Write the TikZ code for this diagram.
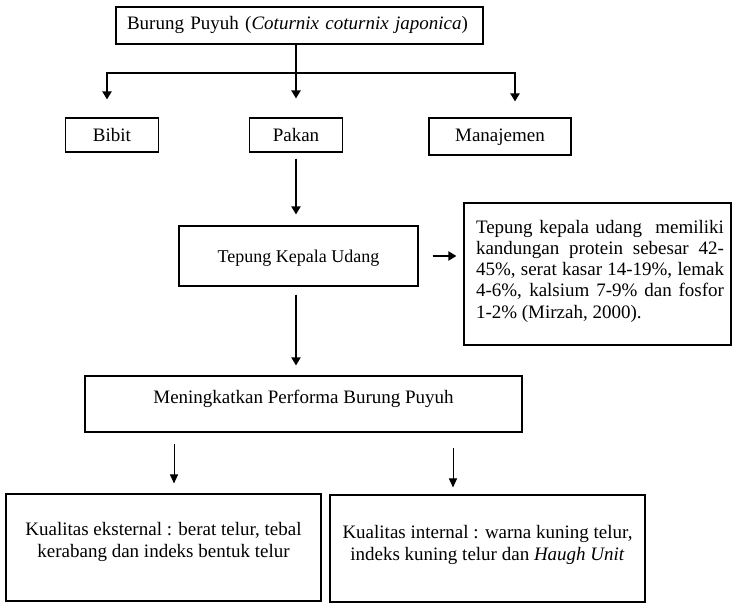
\documentclass[tikz,border=0pt]{standalone}
\usepackage{fontspec}
\setmainfont{Liberation Serif}
\usetikzlibrary{arrows.meta}
\newcommand\bxtext[4]{\parbox[c][#2][t]{#1}{\vspace*{#3}#4}}
\begin{document}
\begin{tikzpicture}[x=1pt,y=-1pt,
  box/.style={draw, line width=1.1pt, inner sep=0pt, font=\fontsize{19}{22}\selectfont, text height=13pt, text depth=0pt},
  pbox/.style={draw, line width=1.1pt, inner sep=0pt, font=\fontsize{19}{22}\selectfont},
  barline/.style={line width=2.2pt},
  bigarrow/.style={line width=2.2pt, line join=miter, -{Triangle[length=8pt,width=9pt]}},
  midarrow/.style={line width=1.8pt, -{Triangle[length=8pt,width=9pt]}},
  smallarrow/.style={line width=1pt, -{Triangle[length=9pt,width=8pt]}}]
\useasboundingbox (0,0) rectangle (734,605);
% boxes
\node[box, minimum width=367pt, minimum height=37pt, text width=345pt, inner xsep=11pt, align=left, text depth=6pt] (top) at (299.5,25.5) {Burung Puyuh (\textit{Coturnix coturnix japonica})};
\node[box, minimum width=93pt, minimum height=34pt] (bib) at (112,135) {Bibit};
\node[box, minimum width=93pt, minimum height=34pt] (pak) at (296,135) {Pakan};
\node[box, minimum width=142pt, minimum height=37pt, text depth=2.6pt] (man) at (500,136.5) {Manajemen};
\node[box, minimum width=239pt, minimum height=60pt, font=\fontsize{18}{21}\selectfont, text height=12.5pt] (tep) at (298.5,256) {Tepung Kepala Udang};
\node[pbox] (info) at (597.5,274) {\bxtext{267pt}{142pt}{17pt}{\fontsize{19}{21.25}\selectfont\setlength\leftskip{12pt}\noindent
\makebox[248pt][s]{Tepung kepala udang\ \ memiliki}\\
\makebox[248pt][s]{kandungan protein sebesar 42-}\\
\makebox[248pt][s]{45\%, serat kasar 14-19\%, lemak}\\
\makebox[248pt][s]{4-6\%, kalsium 7-9\% dan fosfor}\\
1-2\% (Mirzah, 2000).\par}};
\node[box, minimum width=437pt, minimum height=56pt, text depth=15pt] (men) at (303.5,404) {Meningkatkan Performa Burung Puyuh};
\node[pbox] (ext) at (163.5,547.5) {\bxtext{315pt}{107pt}{28pt}{\centering Kualitas eksternal : berat telur, tebal\\ kerabang dan indeks bentuk telur\par}};
\node[pbox] (intl) at (487.5,548.5) {\bxtext{315pt}{107pt}{30pt}{\centering Kualitas internal : warna kuning telur,\\ indeks kuning telur dan \textit{Haugh Unit}\par}};
% connectors
\coordinate (hub) at (296,73);
\coordinate (bl) at (107,73);
\coordinate (br) at (515,73);
\draw[barline] (top.south -| hub) -- (hub);
\draw[bigarrow, shorten >=19pt] (hub) -- (pak.north);
\draw[bigarrow, shorten >=18pt] (hub) -- (bl) -- (bl |- bib.north);
\draw[bigarrow, shorten >=16pt] (hub) -- (br) -- (br |- man.north);
\draw[midarrow, shorten <=6pt, shorten >=11pt] (pak.south) -- (pak.south |- tep.north);
\draw[midarrow, shorten <=8pt, shorten >=10pt] (tep.south -| pak.south) -- (pak.south |- men.north);
\draw[midarrow, shorten <=14pt, shorten >=7pt] (tep.east) -- (tep.east -| info.west);
\draw[smallarrow, shorten <=11pt, shorten >=10pt] ([xshift=-129.5pt]men.south) -- ([xshift=-129.5pt]men.south |- ext.north);
\draw[smallarrow, shorten <=15pt, shorten >=7pt] ([xshift=149.5pt]men.south) -- ([xshift=149.5pt]men.south |- intl.north);
\end{tikzpicture}
\end{document}
